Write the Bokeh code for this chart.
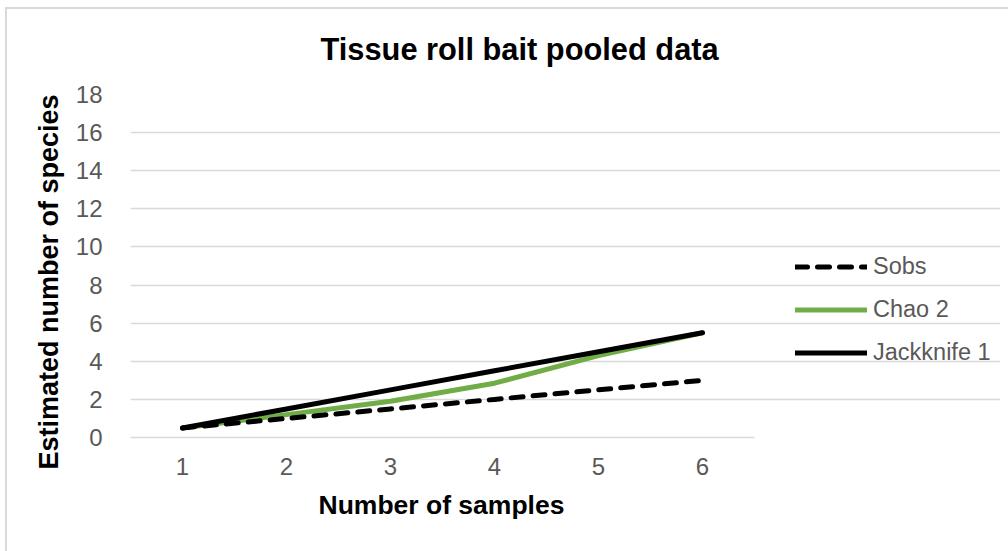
from bokeh.plotting import figure
from bokeh.models import Legend, LegendItem, Title, FixedTicker, Range1d
from bokeh.embed import file_html
from bokeh.resources import INLINE

samples = [1, 2, 3, 4, 5, 6]
sobs = [0.5, 1.0, 1.5, 2.0, 2.5, 3.0]
chao2 = [0.5, 1.2, 1.9, 2.85, 4.3, 5.5]
jack1 = [0.5, 1.5, 2.5, 3.5, 4.5, 5.5]
y_ticks = [0, 2, 4, 6, 8, 10, 12, 14, 16, 18]

FONT = "Liberation Sans"
GRAY = "#595959"

W, H = 1008, 551
FRAME_L, FRAME_R, FRAME_T, FRAME_B = 130, 1000, 94, 437
CAT_PX = 104  # pixels per category slot
x_end = 0.5 + (FRAME_R - FRAME_L) / CAT_PX

p = figure(width=W, height=H, output_backend="svg", toolbar_location=None,
           x_range=Range1d(0.5, x_end), y_range=Range1d(0, 18),
           min_border_left=FRAME_L, min_border_right=W - FRAME_R,
           min_border_top=FRAME_T, min_border_bottom=H - FRAME_B)
# thin grey chart-area border along the left and top edges
p.styles = {"box-shadow": "inset 5px 7px 0 0 white, inset 7px 9px 0 0 #d9d9d9"}
p.title = None
p.outline_line_color = None
p.background_fill_alpha = 0
p.border_fill_alpha = 0

t = Title(text="Tissue roll bait pooled data", align="left", offset=190,
          text_font=FONT, text_font_size="30.8px", text_font_style="bold",
          text_color="black", standoff=56)
p.add_layout(t, "above")

p.xaxis.ticker = FixedTicker(ticks=samples)
p.yaxis.ticker = FixedTicker(ticks=y_ticks)
for ax in (p.xaxis, p.yaxis):
    ax.major_tick_line_color = None
    ax.minor_tick_line_color = None
    ax.major_label_text_font = FONT
    ax.major_label_text_font_size = "24px"
    ax.major_label_text_color = GRAY
p.yaxis.axis_line_color = None
p.xaxis.axis_line_color = "#d9d9d9"
p.xaxis.axis_line_width = 1.3
p.xaxis.bounds = (0.5, 6.5)
p.xaxis.major_label_standoff = 14
p.yaxis.major_label_standoff = 22

xtitle = Title(text="Number of samples", align="left", offset=188,
               text_font=FONT, text_font_size="26.5px", text_font_style="bold",
               text_color="black", standoff=21)
p.add_layout(xtitle, "below")

ytitle = Title(text="Estimated number of species", align="left", offset=-32,
               text_font=FONT, text_font_size="27px", text_font_style="bold",
               text_color="black", standoff=18)
p.add_layout(ytitle, "left")

p.xgrid.grid_line_color = None
p.ygrid.grid_line_color = "#d9d9d9"
p.ygrid.grid_line_width = 1.3
p.ygrid.bounds = (0.5, 6.5)

r_chao = p.line(samples, chao2, line_color="#70ad47", line_width=5, line_cap="round", line_join="round")
r_jack = p.line(samples, jack1, line_color="black", line_width=5, line_cap="round", line_join="round")
r_sobs = p.line(samples, sobs, line_color="black", line_width=5, line_dash="12 10", line_cap="round")

legend = Legend(items=[LegendItem(label="Sobs", renderers=[r_sobs]),
                       LegendItem(label="Chao 2", renderers=[r_chao]),
                       LegendItem(label="Jackknife 1", renderers=[r_jack])],
                location=(795 - FRAME_L, 71), glyph_width=72, glyph_height=25, label_height=25,
                spacing=16, padding=0, margin=0, label_standoff=6,
                label_text_font=FONT, label_text_font_size="23.5px", label_text_color=GRAY,
                border_line_color=None, background_fill_alpha=0)
p.add_layout(legend, "center")

open("out.html", "w").write(file_html(p, INLINE))
